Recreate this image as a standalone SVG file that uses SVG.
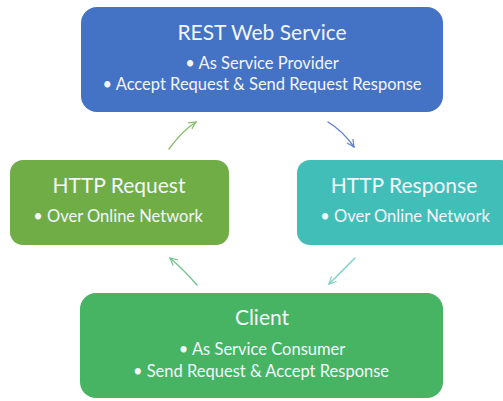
<svg xmlns="http://www.w3.org/2000/svg" width="503" height="401" viewBox="0 0 503 401">
<defs>
<style>
.t{font-family:Lato,"Liberation Sans",sans-serif;fill:#F2F6FB;text-anchor:middle}
.h{font-size:21px}
.b{font-size:16.5px}
.c{fill:none;stroke-width:1.4;stroke-linecap:round}
</style>
<marker id="m1" viewBox="0 0 10 10" refX="9" refY="5" markerWidth="9" markerHeight="9" orient="auto" markerUnits="userSpaceOnUse"><path d="M1,1 L9,5 L1,9" fill="none" stroke="context-stroke" stroke-width="1.3"/></marker>
</defs>
<rect width="503" height="401" fill="#FFFFFF"/>
<g id="connectors">
<path class="c" d="M169,149 Q182,131 196,122" stroke="#86BC6E" marker-end="url(#m1)"/>
<path class="c" d="M328,122 Q343,131 354,147" stroke="#5A7FCB" marker-end="url(#m1)"/>
<path class="c" d="M355,258 Q341,272 329,284" stroke="#7ED0C9" marker-end="url(#m1)"/>
<path class="c" d="M197,285 Q183,269 170,258" stroke="#72C58E" marker-end="url(#m1)"/>
</g>
<g id="rest">
<rect x="81" y="7" width="362" height="105" rx="16" fill="#4472C4"/>
<text class="t h" x="262" y="40">REST Web Service</text>
<text class="t b" x="262" y="69">• As Service Provider</text>
<text class="t b" x="262" y="90">• Accept Request &amp; Send Request Response</text>
</g>
<g id="request">
<rect x="10" y="160" width="219" height="85" rx="13" fill="#70AD47"/>
<text class="t h" x="119" y="193">HTTP Request</text>
<text class="t b" x="118" y="222">• Over Online Network</text>
</g>
<g id="response">
<rect x="297" y="160" width="216" height="85" rx="13" fill="#42BEB9"/>
<text class="t h" x="404" y="193">HTTP Response</text>
<text class="t b" x="405" y="222">• Over Online Network</text>
</g>
<g id="client">
<rect x="80" y="293" width="363" height="105" rx="16" fill="#47B464"/>
<text class="t h" x="262" y="325">Client</text>
<text class="t b" x="262" y="355">• As Service Consumer</text>
<text class="t b" x="261" y="377">• Send Request &amp; Accept Response</text>
</g>
</svg>
